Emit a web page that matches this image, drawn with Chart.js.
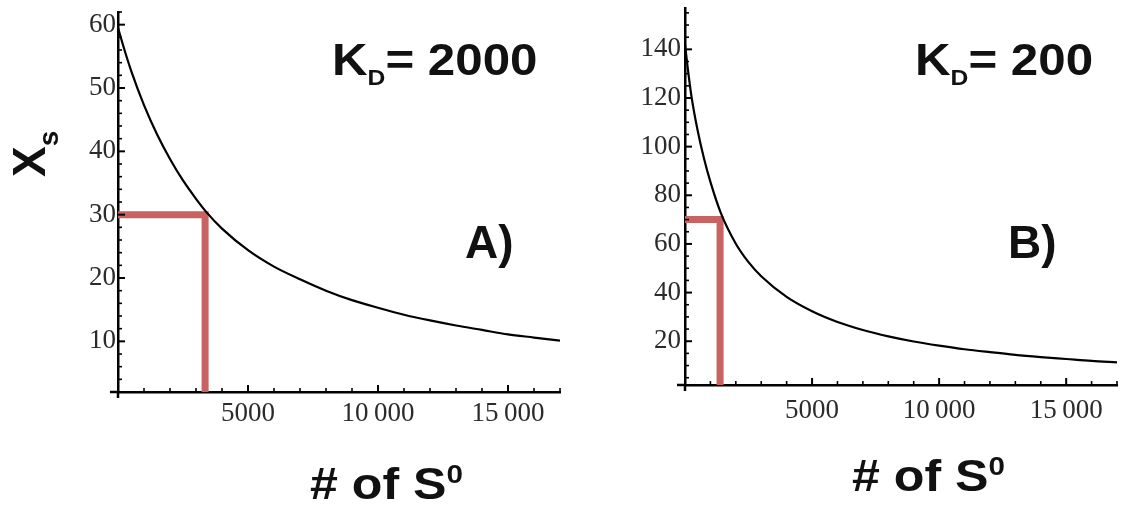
<!DOCTYPE html>
<html>
<head>
<meta charset="utf-8">
<script src="https://cdn.jsdelivr.net/npm/chart.js@4.4.1/dist/chart.umd.min.js"></script>
<style>
    body { margin: 0; width: 1122px; height: 508px; position: relative; overflow: hidden; background: #fff; }
    canvas { position: absolute; }
    #chartA { left: 0; top: -20px; }
    #chartB { left: 570px; top: -20px; }
    .lbl { position: absolute; font-family: "Liberation Sans", Arial, sans-serif; font-weight: bold; color: #111; white-space: nowrap; line-height: 1; transform-origin: 0 0; }
    .kd { font-size: 44px; transform: scaleX(1.12); }
    .kd sub { font-size: 22px; vertical-align: -10px; }
    .xt { font-size: 44px; transform: scaleX(1.14); }
    .xt sup { font-size: 26px; vertical-align: 16px; }
    .pn { font-size: 46px; }
    .yt { font-size: 46px; transform: rotate(-90deg); }
    .yt sub { font-size: 28px; vertical-align: -13px; }
</style>
</head>
<body>
<canvas id="chartA" width="580" height="528"></canvas>
<canvas id="chartB" width="552" height="528"></canvas>

<div class="lbl kd" style="left:332px; top:38px;">K<sub>D</sub>= 2000</div>
<div class="lbl kd" style="left:915px; top:38px;">K<sub>D</sub>= 200</div>
<div class="lbl pn" style="left:465px; top:219px;">A)</div>
<div class="lbl pn" style="left:1008px; top:219px;">B)</div>
<div class="lbl xt" style="left:310px; top:461px;"># of S<sup>0</sup></div>
<div class="lbl xt" style="left:852px; top:453px;"># of S<sup>0</sup></div>
<div class="lbl yt" style="left:6px; top:177px;">X<sub>s</sub></div>

<script>
// S0 values
const s0A = [0, 250, 500, 1000, 1500, 2000, 2500, 3000, 3400, 4000, 5000, 6000, 7000, 8000, 9000, 10000, 11000, 12000, 13000, 14000, 15000, 16000, 17000];
const xsA = [59.5, 56.0, 52.8, 47.3, 42.7, 38.8, 35.4, 32.5, 30.4, 27.8, 24.4, 21.8, 19.8, 18.0, 16.5, 15.3, 14.2, 13.3, 12.5, 11.8, 11.1, 10.6, 10.1];

const s0B = [0, 100, 250, 500, 750, 1000, 1400, 2000, 2500, 3000, 4000, 5000, 6000, 7000, 8000, 9000, 10000, 11000, 12000, 13000, 14000, 15000, 16000, 17000];
const xsB = [142, 133, 121, 106.5, 95, 85.5, 73, 60.1, 52.5, 46.7, 38.2, 32.3, 27.9, 24.6, 22.0, 19.9, 18.2, 16.7, 15.5, 14.4, 13.5, 12.7, 11.9, 11.3];

// red guide lines (S0, Xs)
const guideA = [3350, 30];
const guideB = [1380, 70];

// axis ticks
const xTicks = [5000, 10000, 15000];
const xTickLabels = ['5000', '10\u2009000', '15\u2009000'];
const yTicksA = [10, 20, 30, 40, 50, 60];
const yTicksB = [20, 40, 60, 80, 100, 120, 140];

// inward Mathematica-style tick marks (major + minor)
const tickMarks = {
    id: 'tickMarks',
    afterDraw(chart, args, o) {
        const { ctx, chartArea: a, scales: { x, y } } = chart;
        ctx.save();
        ctx.strokeStyle = '#000';
        for (let v = o.xMinor; v <= x.max; v += o.xMinor) {
            const px = x.getPixelForValue(v);
            const major = v % o.xMajor === 0;
            ctx.lineWidth = major ? 2 : 1.6;
            ctx.beginPath();
            ctx.moveTo(px, a.bottom);
            ctx.lineTo(px, a.bottom - (major ? 7 : 4));
            ctx.stroke();
        }
        for (let v = Math.ceil(y.min / o.yMinor) * o.yMinor; v <= y.max; v += o.yMinor) {
            const py = y.getPixelForValue(v);
            const major = v % o.yMajor === 0;
            ctx.lineWidth = major ? 2 : 1.6;
            ctx.beginPath();
            ctx.moveTo(a.left, py);
            ctx.lineTo(a.left + (major ? 7 : 4), py);
            ctx.stroke();
        }
        // axes cross a little past each other
        ctx.lineWidth = 2.5;
        ctx.beginPath();
        ctx.moveTo(a.left - 8, a.bottom);
        ctx.lineTo(a.left, a.bottom);
        ctx.moveTo(a.left, a.bottom);
        ctx.lineTo(a.left, a.bottom + 6);
        ctx.stroke();
        ctx.restore();
    }
};

const tickFont = { family: '"Liberation Serif", "Times New Roman", serif', size: 27 };

function makePanel(id, s0, xs, guide, yTicks, yMin, yMax, yMinor, yMajor, yWidth, xHeight, pad, xPad, yPad) {
    const curve = s0.map((v, i) => ({ x: v, y: xs[i] }));
    const red = [
        { x: 0, y: guide[1] },
        { x: guide[0], y: guide[1] },
        { x: guide[0], y: yMin }
    ];
    return new Chart(document.getElementById(id), {
        type: 'line',
        data: {
            datasets: [{
                data: curve,
                borderColor: '#000',
                borderWidth: 2.2,
                pointRadius: 0,
                cubicInterpolationMode: 'monotone',
                order: 0
            }, {
                data: red,
                borderColor: '#c96262',
                borderWidth: 7,
                pointRadius: 0,
                tension: 0,
                order: 1
            }]
        },
        options: {
            responsive: false,
            animation: false,
            layout: { padding: pad },
            plugins: {
                legend: { display: false },
                tooltip: { enabled: false },
                tickMarks: { xMinor: 1000, xMajor: 5000, yMinor: yMinor, yMajor: yMajor }
            },
            scales: {
                x: {
                    type: 'linear',
                    min: 0,
                    max: 17000,
                    grid: { display: false, drawTicks: false },
                    border: { color: '#000', width: 2.5 },
                    afterBuildTicks: s => { s.ticks = xTicks.map(v => ({ value: v })); },
                    afterFit: s => { s.height = xHeight; },
                    ticks: {
                        font: tickFont,
                        color: '#2b2b2b',
                        padding: xPad,
                        maxRotation: 0,
                        autoSkip: false,
                        callback: v => xTickLabels[xTicks.indexOf(v)]
                    }
                },
                y: {
                    type: 'linear',
                    min: yMin,
                    max: yMax,
                    grid: { display: false, drawTicks: false },
                    border: { color: '#000', width: 2.5 },
                    afterBuildTicks: s => { s.ticks = yTicks.map(v => ({ value: v })); },
                    afterFit: s => { s.width = yWidth; },
                    ticks: {
                        font: tickFont,
                        color: '#2b2b2b',
                        padding: yPad,
                        autoSkip: false
                    }
                }
            }
        },
        plugins: [tickMarks]
    });
}

makePanel('chartA', s0A, xsA, guideA, yTicksA, 2, 62, 2, 10, 118, 116, { top: 32, right: 20, left: 0, bottom: 0 }, 6, 2);
makePanel('chartB', s0B, xsB, guideB, yTicksB, 2, 157, 5, 20, 115, 123, { top: 28, right: 5, left: 0, bottom: 0 }, 10, 4);
</script>
</body>
</html>
